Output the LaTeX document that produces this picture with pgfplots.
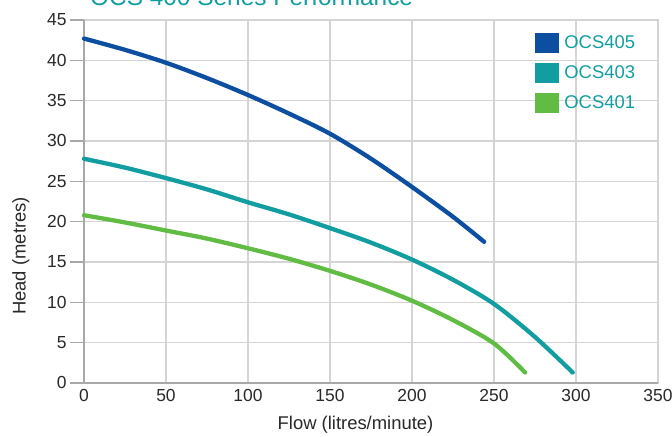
\documentclass[border=0pt]{standalone}
\usepackage{fontspec}
\setmainfont{Liberation Sans}
\usepackage{pgfplots}
\pgfplotsset{compat=1.18}
\usetikzlibrary{calc}
\definecolor{cblue}{RGB}{12,78,160}
\definecolor{cteal}{RGB}{18,158,160}
\definecolor{cgreen}{RGB}{96,188,66}
\definecolor{gridc}{RGB}{212,212,212}
\definecolor{axisc}{RGB}{168,168,168}
\definecolor{txtc}{RGB}{40,40,40}
\begin{document}
\begin{tikzpicture}
\begin{axis}[
  scale only axis, width=574bp, height=363bp,
  xmin=0, xmax=350, ymin=0, ymax=45,
  xtick={0,50,...,350}, ytick={0,5,...,45},
  grid=major,
  major grid style={gridc, line width=1.3bp},
  axis line style={gridc, line width=1.3bp},
  xtick pos=bottom, ytick pos=left,
  tick align=outside, major tick length=14bp,
  x tick style={draw=none},
  y tick style={draw=axisc, line width=1.3bp},
  tick label style={font=\fontsize{17.5}{20}\selectfont, text=txtc},
  xticklabel style={yshift=11bp},
  /pgf/number format/assume math mode=true,
  xlabel={Flow (litres/minute)},
  ylabel={Head (metres)},
  label style={font=\fontsize{18.5}{22}\selectfont, text=txtc},
  xlabel style={at={(axis description cs:0.473,-0.115)}, anchor=center},
  ylabel style={at={(axis description cs:-0.11,0.35)}, anchor=center},
  every axis plot/.append style={line width=4.3bp, line cap=round},
  legend style={at={(rel axis cs:0.786,0.964)}, anchor=north west,
    draw=none, fill=none, inner sep=0pt, row sep=10bp,
    font=\fontsize{18.5}{22}\selectfont, text=cteal, cells={anchor=west},
    /tikz/every odd column/.append style={column sep=3bp}},
  legend image code/.code={\fill[#1, draw=none] (0bp,-10bp) rectangle (24bp,10bp);},
  clip=false,
]
\coordinate (sw) at (rel axis cs:0,0);
\coordinate (ne) at (rel axis cs:1,1);
% y tick marks
\pgfplotsinvokeforeach{0,5,...,45}{
  \draw[axisc, line width=1.3bp] (axis cs:0,#1) -- ++(-13bp,0);
}
\draw[axisc, line width=2.2bp] (rel axis cs:0,1) -- (rel axis cs:0,0) -- (rel axis cs:1,0);
\addplot[cblue, smooth] coordinates {(0,42.7) (25,41.3) (50,39.7) (75,37.8) (100,35.7)
  (125,33.4) (150,30.9) (175,27.8) (200,24.3) (225,20.6) (244,17.5)};
\addplot[cteal, smooth] coordinates {(0,27.8) (25,26.7) (50,25.4) (75,24.0) (100,22.4)
  (125,20.9) (150,19.2) (175,17.4) (200,15.3) (225,12.8) (250,9.8) (275,5.7) (298,1.3)};
\addplot[cgreen, smooth] coordinates {(0,20.8) (25,19.9) (50,18.9) (75,17.9) (100,16.7)
  (125,15.4) (150,13.9) (175,12.2) (200,10.2) (225,7.8) (250,4.9) (269,1.3)};
\legend{OCS405, OCS403, OCS401}
\end{axis}
\node[anchor=base west, inner sep=0pt, text=cteal, font=\fontsize{24.5}{28}\selectfont]
  at ($(sw|-ne)+(6bp,14bp)$) {OCS 400 Series Performance};
\pgfresetboundingbox
\useasboundingbox ($(sw)+(-84bp,-54bp)$) rectangle ($(ne)+(14bp,20bp)$);
\end{tikzpicture}
\end{document}
